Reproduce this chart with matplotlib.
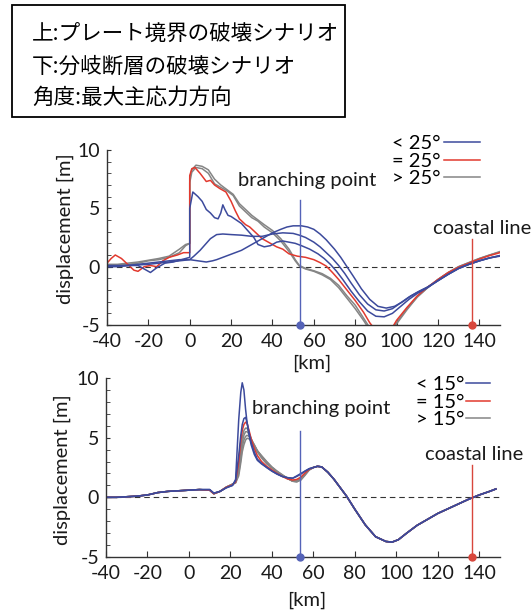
import numpy as np
import matplotlib
matplotlib.use("Agg")
from matplotlib import pyplot as plt
from matplotlib.patches import Rectangle
from matplotlib.ticker import MultipleLocator

plt.rcParams['font.family'] = ['Lato', 'DejaVu Sans']
plt.rcParams['axes.unicode_minus'] = False

# ---------------- data: top panel (plate boundary rupture) ----------------
top_gray1_x = [-40, -35, -30, -25, -20, -15, -10, -5, -2, 0, 0, 1, 3, 6, 9, 12, 15, 18, 21, 24, 27, 30, 33, 36,
               40, 44, 48, 51, 53, 56, 60, 64, 68, 72, 76, 80, 84, 88, 92, 96, 100, 105, 110, 115, 120, 125,
               130, 135, 140, 145, 150]
top_gray1_y = [0.1, 0.15, 0.2, 0.3, 0.5, 0.6, 0.8, 1.2, 1.8, 2.0, 7.6, 8.3, 8.7, 8.6, 8.3, 7.5, 7.0, 6.6, 6.2,
               5.4, 4.9, 4.4, 4.0, 3.6, 3.1, 2.4, 1.5, 0.6, 0.1, -0.15, -0.35, -0.6, -1.0, -1.6, -2.5, -3.3,
               -4.4, -5.5, -6.1, -5.8, -4.8, -3.6, -2.6, -1.8, -1.1, -0.5, 0.0, 0.35, 0.7, 1.0, 1.25]
top_gray2_x = [-40, -35, -30, -25, -20, -15, -10, -5, -2, 0, 0, 1, 3, 6, 9, 12, 15, 18, 21, 24, 27, 30, 33, 36,
               40, 44, 48, 51, 53, 56, 60, 64, 68, 72, 76, 80, 84, 88, 92, 96, 100, 105, 110, 115, 120, 125,
               130, 135, 140, 145, 150]
top_gray2_y = [0.2, 0.2, 0.3, 0.4, 0.55, 0.7, 0.9, 1.5, 1.9, 2.0, 7.2, 8.1, 8.5, 8.4, 8.0, 7.1, 6.8, 6.5, 6.1,
               5.2, 4.7, 4.2, 3.9, 3.4, 2.9, 2.2, 1.3, 0.5, 0.05, -0.2, -0.4, -0.7, -1.1, -1.8, -2.7, -3.6,
               -4.6, -5.7, -6.2, -5.9, -4.9, -3.7, -2.6, -1.8, -1.1, -0.5, 0.0, 0.35, 0.7, 1.0, 1.3]
top_red_x = [-40, -38, -36, -33, -30, -27, -25, -22, -19, -16, -13, -10, -6, -3, 0, 0, 1, 2.5, 5, 8, 10, 12,
             14.5, 17.5, 20, 22, 24, 27, 29, 32, 35, 38, 42, 45, 48, 52, 56, 60, 63, 66, 69, 72, 76, 80, 84,
             87, 90, 94, 98, 100, 105, 110, 115, 120, 125, 130, 135, 140, 145, 150]
top_red_y = [0.3, 0.7, 1.0, 0.7, 0.2, -0.3, -0.4, 0.0, 0.1, 0.0, 0.5, 0.8, 1.0, 1.2, 1.2, 7.8, 8.4, 8.5, 8.0,
             7.3, 7.4, 7.0, 6.7, 6.4, 5.6, 4.8, 4.1, 3.6, 3.4, 2.9, 2.4, 2.1, 1.7, 1.5, 1.1, 0.9, 0.8, 0.6,
             0.35, 0.05, -0.5, -1.1, -2.0, -2.9, -3.9, -4.8, -5.5, -5.8, -5.2, -4.6, -3.5, -2.5, -1.75, -1.1,
             -0.5, -0.05, 0.3, 0.65, 0.95, 1.2]
top_blue1_x = [-40, -35, -30, -25, -22, -19, -16, -12, -8, -4, 0, 0, 1.5, 4, 6, 8, 10, 12, 13.7, 15, 16, 17,
               18.5, 20, 22.5, 25, 27, 29, 31, 33, 36, 39, 42, 45, 48, 51, 54, 58, 62, 65, 68, 71, 74, 78, 82,
               86, 90, 94, 98, 102, 106, 110, 115, 120, 125, 130, 135, 140, 145, 150]
top_blue1_y = [0.0, 0.0, 0.1, 0.1, -0.2, -0.5, -0.1, 0.3, 0.4, 0.6, 0.8, 5.0, 6.4, 6.0, 5.6, 4.9, 4.6, 4.2, 4.1,
               4.6, 5.3, 4.9, 4.4, 4.3, 4.0, 3.7, 3.3, 2.9, 2.5, 1.9, 1.7, 1.8, 2.1, 2.2, 2.1, 2.0, 1.8, 1.5,
               1.1, 0.7, 0.2, -0.4, -1.1, -2.1, -3.0, -3.8, -4.25, -4.3, -4.0, -3.4, -2.8, -2.3, -1.8, -1.2,
               -0.65, -0.15, 0.2, 0.5, 0.75, 0.95]
top_blue2_x = [-40, -30, -20, -15, -10, -5, 0, 2, 5, 8, 10, 13, 16, 20, 25, 30, 35, 40, 45, 50, 53, 56, 60, 63,
               66, 69, 72, 75, 78, 82, 86, 90, 94, 98, 102, 106, 110, 115, 120, 125, 130, 135, 140, 145, 150]
top_blue2_y = [0.1, 0.1, 0.2, 0.3, 0.4, 0.5, 0.6, 0.9, 1.4, 2.0, 2.4, 2.75, 2.8, 2.75, 2.7, 2.6, 2.6, 2.8, 2.9,
               2.85, 2.7, 2.5, 2.1, 1.7, 1.2, 0.7, 0.1, -0.6, -1.4, -2.4, -3.2, -3.7, -3.8, -3.6, -3.1, -2.6,
               -2.2, -1.75, -1.2, -0.65, -0.15, 0.2, 0.5, 0.75, 0.95]
top_blue3_x = [-40, -30, -20, -10, -5, 0, 4, 8, 11, 13, 16, 19, 22, 25, 28, 32, 36, 40, 44, 47, 50, 54, 57, 60,
               63, 66, 70, 73, 76, 79, 83, 87, 91, 95, 99, 103, 107, 111, 115, 120, 125, 130, 135, 140, 145, 150]
top_blue3_y = [0.0, 0.1, 0.3, 0.5, 0.6, 0.6, 0.5, 0.4, 0.5, 0.6, 0.8, 1.0, 1.2, 1.4, 1.7, 2.1, 2.5, 2.9, 3.2,
               3.4, 3.5, 3.5, 3.4, 3.2, 2.8, 2.3, 1.5, 0.8, 0.0, -0.8, -1.9, -2.8, -3.4, -3.55, -3.4, -3.0,
               -2.5, -2.1, -1.75, -1.2, -0.65, -0.15, 0.2, 0.5, 0.75, 0.9]

# ---------------- data: bottom panel (splay fault rupture) ----------------
bot_x = [-40, -35, -30, -25, -20, -15, -10, -5, 0, 5, 10, 12, 15, 18, 21, 22.5, 24, 25, 25.7, 26.5,
         27.3, 28, 29, 30, 31.5, 33, 35, 37.5, 40, 42.5, 45, 47.5, 50, 52, 54, 56, 58, 60, 62, 64,
         67, 70, 73, 76, 80, 85, 90, 95, 98, 101, 105, 110, 115, 120, 125, 130, 135, 140, 145, 148]
bot_blue1 = [0.0, 0.0, 0.05, 0.1, 0.2, 0.4, 0.5, 0.55, 0.6, 0.65,
             0.65, 0.35, 0.5, 0.8, 1.0, 1.5, 6.5, 8.8, 9.6, 9.0,
             7.4, 6.3, 5.2, 4.4, 3.6, 3.1, 2.8, 2.5, 2.2, 1.95,
             1.75, 1.65, 1.6, 1.8, 2.0, 2.2, 2.4, 2.5, 2.6, 2.55,
             2.1, 1.5, 0.8, 0.1, -1.0, -2.3, -3.3, -3.7, -3.75, -3.55,
             -3.0, -2.35, -1.85, -1.35, -0.95, -0.55, -0.15, 0.2, 0.5, 0.7]
bot_blue2 = [0.0, 0.0, 0.05, 0.1, 0.2, 0.4, 0.5, 0.55, 0.6, 0.65,
             0.65, 0.35, 0.5, 0.8, 1.0, 1.4, 3.5, 5.2, 6.1, 6.6,
             6.7, 6.3, 5.4, 4.6, 3.8, 3.2, 2.85, 2.5, 2.2, 1.95,
             1.75, 1.65, 1.6, 1.75, 1.95, 2.2, 2.4, 2.5, 2.6, 2.55,
             2.1, 1.5, 0.8, 0.1, -1.0, -2.3, -3.3, -3.7, -3.75, -3.55,
             -3.0, -2.35, -1.85, -1.35, -0.95, -0.55, -0.15, 0.2, 0.5, 0.7]
bot_red = [0.0, 0.0, 0.05, 0.1, 0.2, 0.4, 0.5, 0.55, 0.6, 0.65,
           0.6, 0.3, 0.5, 0.85, 1.05, 1.3, 3.0, 4.7, 5.6, 6.1,
           6.3, 6.2, 5.6, 4.9, 4.1, 3.5, 3.0, 2.6, 2.3, 2.0,
           1.75, 1.55, 1.45, 1.5, 1.7, 2.05, 2.35, 2.5, 2.6, 2.55,
           2.1, 1.5, 0.8, 0.1, -1.0, -2.3, -3.3, -3.7, -3.75, -3.55,
           -3.0, -2.35, -1.85, -1.35, -0.95, -0.55, -0.15, 0.2, 0.5, 0.7]
bot_gray1 = [0.0, 0.0, 0.05, 0.1, 0.2, 0.4, 0.5, 0.55, 0.6, 0.65,
             0.6, 0.3, 0.5, 0.85, 1.1, 1.3, 2.6, 4.0, 5.0, 5.6,
             5.8, 5.8, 5.4, 4.9, 4.3, 3.8, 3.3, 2.8, 2.45, 2.1,
             1.8, 1.55, 1.4, 1.4, 1.6, 2.0, 2.35, 2.5, 2.6, 2.55,
             2.1, 1.5, 0.8, 0.1, -1.0, -2.3, -3.3, -3.7, -3.75, -3.55,
             -3.0, -2.35, -1.85, -1.35, -0.95, -0.55, -0.15, 0.2, 0.5, 0.7]
bot_gray2 = [0.0, 0.0, 0.05, 0.1, 0.2, 0.4, 0.5, 0.55, 0.6, 0.65,
             0.6, 0.3, 0.5, 0.85, 1.1, 1.3, 2.3, 3.6, 4.6, 5.2,
             5.5, 5.5, 5.3, 4.9, 4.4, 3.9, 3.4, 2.9, 2.5, 2.15,
             1.85, 1.6, 1.35, 1.35, 1.55, 1.95, 2.3, 2.5, 2.6, 2.55,
             2.1, 1.5, 0.8, 0.1, -1.0, -2.3, -3.3, -3.7, -3.75, -3.55,
             -3.0, -2.35, -1.85, -1.35, -0.95, -0.55, -0.15, 0.2, 0.5, 0.7]
bot_gray3 = [0.0, 0.0, 0.05, 0.1, 0.2, 0.4, 0.5, 0.55, 0.6, 0.65,
             0.6, 0.3, 0.5, 0.85, 1.1, 1.25, 2.0, 3.2, 4.2, 4.8,
             5.1, 5.2, 5.1, 4.8, 4.4, 3.9, 3.45, 2.95, 2.5, 2.15,
             1.85, 1.6, 1.35, 1.3, 1.5, 1.9, 2.3, 2.5, 2.6, 2.55,
             2.1, 1.5, 0.8, 0.1, -1.0, -2.3, -3.3, -3.7, -3.75, -3.55,
             -3.0, -2.35, -1.85, -1.35, -0.95, -0.55, -0.15, 0.2, 0.5, 0.7]
bot_gray4 = [0.0, 0.0, 0.05, 0.1, 0.2, 0.4, 0.5, 0.55, 0.6, 0.65,
             0.6, 0.3, 0.5, 0.85, 1.1, 1.2, 1.8, 2.9, 3.8, 4.4,
             4.8, 4.95, 4.9, 4.7, 4.3, 3.9, 3.5, 3.0, 2.55, 2.2,
             1.9, 1.6, 1.35, 1.3, 1.45, 1.85, 2.3, 2.5, 2.6, 2.55,
             2.1, 1.5, 0.8, 0.1, -1.0, -2.3, -3.3, -3.7, -3.75, -3.55,
             -3.0, -2.35, -1.85, -1.35, -0.95, -0.55, -0.15, 0.2, 0.5, 0.7]

branch_x = 53.5
coast_x = 136.5
top_labels = ['< 25°', '= 25°', '> 25°']
bot_labels = ['< 15°', '= 15°', '> 15°']
note_lines = ['上:プレート境界の破壊シナリオ', '下:分岐断層の破壊シナリオ', '角度:最大主応力方向']

BLUE = '#3c4a9c'
RED = '#e2392e'
GRAY = '#858585'
VBLUE = '#5563b8'
VRED = '#d8473c'
AXC = '#333333'
TXT = '#1a1a1a'

fig = plt.figure(figsize=(5.31, 6.14), dpi=100)
W, H = 531, 614


def style_axes(ax):
    ax.set_xlim(-40, 150)
    ax.set_ylim(-5, 10)
    for s in ['top', 'right']:
        ax.spines[s].set_visible(False)
    for s in ['left', 'bottom']:
        ax.spines[s].set_color(AXC)
        ax.spines[s].set_linewidth(1.0)
    ax.set_xticks(np.arange(-40, 141, 20))
    ax.set_yticks([-5, 0, 5, 10])
    ax.yaxis.set_minor_locator(MultipleLocator(1))
    ax.tick_params(axis='both', which='both', direction='in', color=AXC, labelsize=14, labelcolor=TXT)
    ax.tick_params(axis='x', length=4, pad=6)
    ax.tick_params(axis='y', which='both', length=3, pad=5)
    ax.axhline(0, color=AXC, lw=0.8, dashes=(5, 3.5), zorder=1)
    ax.set_ylabel('displacement [m]', fontsize=14.5, color=TXT)
    ax.set_xlabel('[km]', fontsize=14.5, color=TXT)
    ax.patch.set_alpha(0)


# top panel
ax1 = fig.add_axes([107 / W, 1 - 325 / H, 393 / W, 175 / H])
style_axes(ax1)
ax1.plot(top_gray1_x, top_gray1_y, color=GRAY, lw=1.1)
ax1.plot(top_gray2_x, top_gray2_y, color=GRAY, lw=1.1, label=top_labels[2])
ax1.plot(top_red_x, top_red_y, color=RED, lw=1.1, label=top_labels[1])
ax1.plot(top_blue1_x, top_blue1_y, color=BLUE, lw=1.1, label=top_labels[0])
ax1.plot(top_blue2_x, top_blue2_y, color=BLUE, lw=1.1)
ax1.plot(top_blue3_x, top_blue3_y, color=BLUE, lw=1.1)
ax1.plot([branch_x, branch_x], [-5, 5.7], color=VBLUE, lw=1.0)
ax1.plot([coast_x, coast_x], [-5, 2.4], color=VRED, lw=1.0)
ax1.plot([branch_x], [-5], 'o', color=VBLUE, ms=5, clip_on=False, zorder=5)
ax1.plot([coast_x], [-5], 'o', color=VRED, ms=5, clip_on=False, zorder=5)
ax1.text(23.4, 7.4, 'branching point', fontsize=14.5, va='center', ha='left', color=TXT)
ax1.text(117.5, 3.3, 'coastal line', fontsize=14.5, va='center', ha='left', color=TXT)
ax1.yaxis.set_label_coords(-0.085, 0.55)
ax1.xaxis.set_label_coords(0.52, -0.17)
h, l = ax1.get_legend_handles_labels()
order = [l.index(t) for t in top_labels]
ax1.legend([h[i] for i in order], [l[i] for i in order], loc='upper right',
           bbox_to_anchor=(480 / W, 1 - 135 / H), bbox_transform=fig.transFigure,
           frameon=False, markerfirst=False, fontsize=14.5, handlelength=1.8, handletextpad=0.15,
           labelspacing=0.02, borderpad=0, borderaxespad=0, alignment='right')

# bottom panel
ax2 = fig.add_axes([106 / W, 1 - 557 / H, 394 / W, 179 / H])
style_axes(ax2)
ax2.plot(bot_x, bot_gray4, color=GRAY, lw=1.1)
ax2.plot(bot_x, bot_gray3, color=GRAY, lw=1.1)
ax2.plot(bot_x, bot_gray2, color=GRAY, lw=1.1)
ax2.plot(bot_x, bot_gray1, color=GRAY, lw=1.1, label=bot_labels[2])
ax2.plot(bot_x, bot_red, color=RED, lw=1.1, label=bot_labels[1])
ax2.plot(bot_x, bot_blue2, color=BLUE, lw=1.1)
ax2.plot(bot_x, bot_blue1, color=BLUE, lw=1.1, label=bot_labels[0])
ax2.plot([branch_x, branch_x], [-5, 5.6], color=VBLUE, lw=1.0)
ax2.plot([coast_x, coast_x], [-5, 2.75], color=VRED, lw=1.0)
ax2.plot([branch_x], [-5], 'o', color=VBLUE, ms=5, clip_on=False, zorder=5)
ax2.plot([coast_x], [-5], 'o', color=VRED, ms=5, clip_on=False, zorder=5)
ax2.text(30.2, 7.45, 'branching point', fontsize=14.5, va='center', ha='left', color=TXT)
ax2.text(114, 3.6, 'coastal line', fontsize=14.5, va='center', ha='left', color=TXT)
ax2.yaxis.set_label_coords(-0.088, 0.49)
ax2.xaxis.set_label_coords(0.51, -0.195)
h, l = ax2.get_legend_handles_labels()
order = [l.index(t) for t in bot_labels]
ax2.legend([h[i] for i in order], [l[i] for i in order], loc='upper right',
           bbox_to_anchor=(490 / W, 1 - 376 / H), bbox_transform=fig.transFigure,
           frameon=False, markerfirst=False, fontsize=14.5, handlelength=1.2, handletextpad=0.05,
           labelspacing=0.02, borderpad=0, borderaxespad=0, alignment='right')

# note box
fig.patches.append(Rectangle((12 / W, 1 - 117 / H), 333 / W, 112 / H, transform=fig.transFigure,
                             fill=False, edgecolor='black', lw=1.3))
for line, yp in zip(note_lines, [35, 67, 98]):
    fig.text(32 / W, 1 - yp / H, line, fontsize=15.5, va='center', ha='left',
             family=['Noto Sans CJK JP', 'DejaVu Sans'])

fig.savefig('out.png', dpi=100)
